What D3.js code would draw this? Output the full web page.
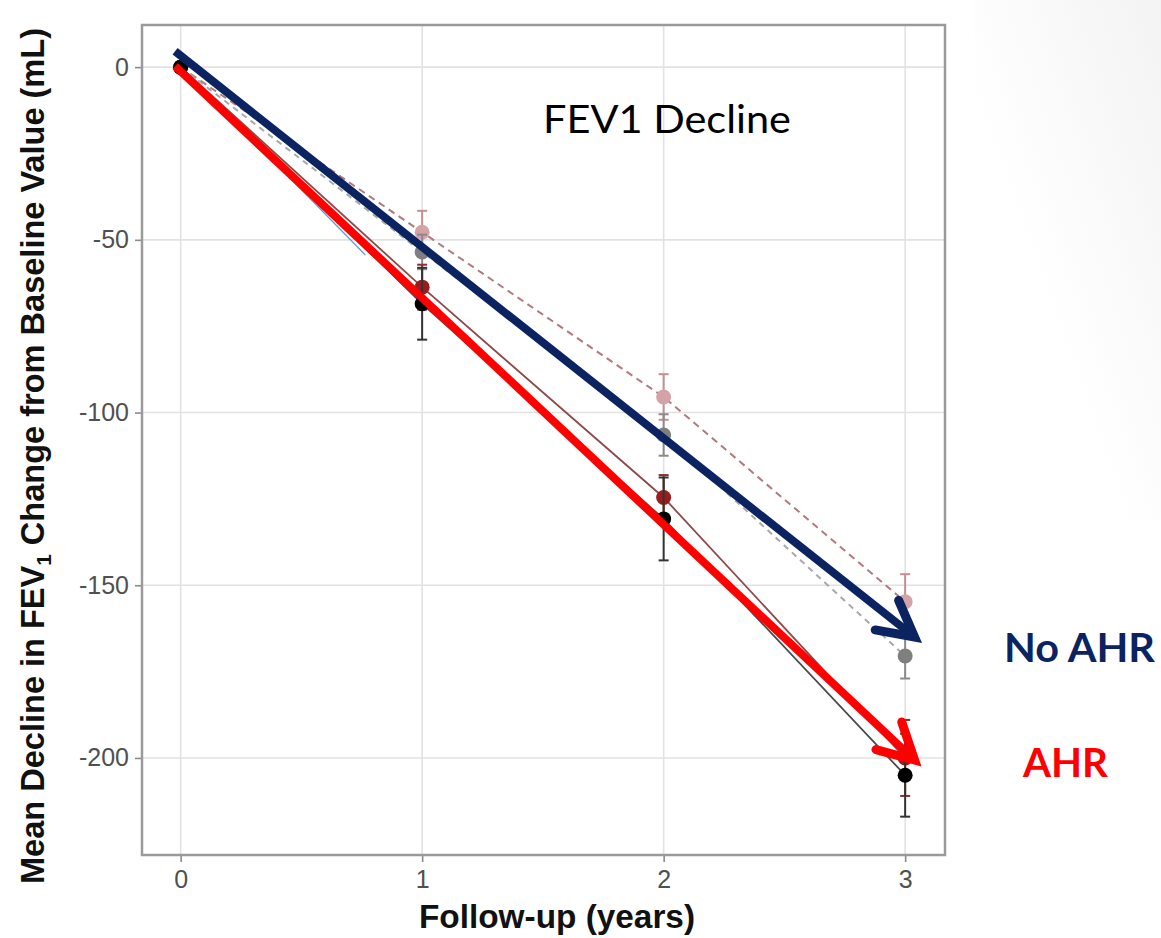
<!DOCTYPE html>
<html>
<head>
<meta charset="utf-8">
<script src="https://cdn.jsdelivr.net/npm/d3@7"></script>
<style>
  html, body { margin: 0; padding: 0; background: #fff; }
  svg { display: block; }
</style>
</head>
<body>
<svg id="chart" width="1161" height="938"></svg>
<script>
// Follow-up years and tick values
const years = [0, 1, 2, 3];
const yTicks = [0, -50, -100, -150, -200];

// Mean change from baseline FEV1 (mL) per group, with error bar half-widths
const blackMean   = [0, -68.5, -130.8, -205];
const blackErr    = [0, 10.4, 12, 12];
const darkredMean = [0, -63.7, -124.6, -200];
const darkredErr  = [0, 6.5, 6.5, 11];
const grayMean    = [0, -53.5, -106.5, -170.5];
const grayErr     = [0, 5, 6, 6.5];
const pinkMean    = [0, -47.8, -95.5, -154.8];
const pinkErr     = [0, 6.2, 6.6, 8];

// Trend arrows: [year, mL] start and end
const noAhrArrow = [[-0.023, 4.6], [3.039, -165]];
const ahrArrow   = [[-0.023, 0.3], [3.039, -200.6]];
const thinGuide  = [[0.002, 0], [0.765, -54.4]];

const svg = d3.select("#chart");

// faint slide shading on the right side
const defs = svg.append("defs");
const grad = defs.append("linearGradient").attr("id", "shade")
  .attr("x1", "1").attr("y1", "0").attr("x2", "0").attr("y2", "1");
grad.append("stop").attr("offset", "0").attr("stop-color", "#f3f3f3");
grad.append("stop").attr("offset", "0.6").attr("stop-color", "#ffffff");
svg.append("rect").attr("x", 975).attr("y", 0).attr("width", 186).attr("height", 520)
  .attr("fill", "url(#shade)");

const x = d3.scaleLinear().domain([-0.16, 3.165]).range([142, 945]);
const y = d3.scaleLinear().domain([12.2, -228.1]).range([25, 855]);

// gridlines
const grid = svg.append("g");
grid.selectAll("line.gx").data(years).join("line")
  .attr("x1", d => x(d)).attr("x2", d => x(d))
  .attr("y1", 25).attr("y2", 855)
  .attr("stroke", "#e2e2e2").attr("stroke-width", 1.6);
grid.selectAll("line.gy").data(yTicks).join("line")
  .attr("x1", 142).attr("x2", 945)
  .attr("y1", d => y(d)).attr("y2", d => y(d))
  .attr("stroke", "#e2e2e2").attr("stroke-width", 1.6);

// axes (plain hyphen for negative labels)
const fmt = d => String(d);
const yAxis = svg.append("g").attr("transform", "translate(142,0)")
  .call(d3.axisLeft(y).tickValues(yTicks).tickSize(7).tickPadding(6).tickFormat(fmt));
const xAxis = svg.append("g").attr("transform", "translate(0,855)")
  .call(d3.axisBottom(x).tickValues(years).tickSize(7).tickPadding(8).tickFormat(fmt));
[yAxis, xAxis].forEach(a => {
  a.select(".domain").remove();
  a.selectAll(".tick line").attr("stroke", "#8a8a8a").attr("stroke-width", 1.6);
  a.selectAll(".tick text")
    .attr("fill", "#505050")
    .style("font-family", "'Liberation Sans', Arial, sans-serif")
    .style("font-size", "25px");
});

// thin guide line
svg.append("line")
  .attr("x1", x(thinGuide[0][0])).attr("y1", y(thinGuide[0][1]))
  .attr("x2", x(thinGuide[1][0])).attr("y2", y(thinGuide[1][1]))
  .attr("stroke", "#5b9bd5").attr("stroke-width", 1.2);

// series
const series = [
  { mean: pinkMean,    err: pinkErr,    line: "#b07a7e", point: "#d3a3a7", bar: "#c48e92", dash: "7,5", lw: 2 },
  { mean: grayMean,    err: grayErr,    line: "#a8a8a8", point: "#7f7f7f", bar: "#8a8a8a", dash: "6,5", lw: 2 },
  { mean: darkredMean, err: darkredErr, line: "#8e4a4a", point: "#9b1c1c", bar: "#8a3030", dash: null,  lw: 1.8 },
  { mean: blackMean,   err: blackErr,   line: "#4a4a4a", point: "#000000", bar: "#333333", dash: null,  lw: 1.8 }
];

const lineGen = d3.line().x(d => x(d[0])).y(d => y(d[1]));

series.forEach(s => {
  const pts = years.map((yr, i) => [yr, s.mean[i], s.err[i]]);
  const g = svg.append("g");
  g.append("path").datum(pts)
    .attr("d", lineGen)
    .attr("fill", "none")
    .attr("stroke", s.line)
    .attr("stroke-width", s.lw)
    .attr("stroke-dasharray", s.dash);
  const eb = pts.filter(p => p[2] > 0);
  g.selectAll("line.v").data(eb).join("line")
    .attr("x1", d => x(d[0])).attr("x2", d => x(d[0]))
    .attr("y1", d => y(d[1] + d[2])).attr("y2", d => y(d[1] - d[2]))
    .attr("stroke", s.bar).attr("stroke-width", 2);
  ["top", "bot"].forEach(k => {
    g.selectAll("line.c" + k).data(eb).join("line")
      .attr("x1", d => x(d[0]) - 5).attr("x2", d => x(d[0]) + 5)
      .attr("y1", d => y(k === "top" ? d[1] + d[2] : d[1] - d[2]))
      .attr("y2", d => y(k === "top" ? d[1] + d[2] : d[1] - d[2]))
      .attr("stroke", s.bar).attr("stroke-width", 2);
  });
  g.selectAll("circle").data(pts).join("circle")
    .attr("cx", d => x(d[0])).attr("cy", d => y(d[1]))
    .attr("r", 7.5)
    .attr("fill", s.point);
});

// panel border
svg.append("rect").attr("x", 142).attr("y", 25).attr("width", 803).attr("height", 830)
  .attr("fill", "none").attr("stroke", "#9a9a9a").attr("stroke-width", 2.5);

// trend arrows with open heads
function drawArrow(seg, color) {
  const x0 = x(seg[0][0]), y0 = y(seg[0][1]);
  const x1 = x(seg[1][0]), y1 = y(seg[1][1]);
  const ang = Math.atan2(y1 - y0, x1 - x0);
  const len = 40, spread = Math.PI / 6.4;
  const a1 = [x1 - len * Math.cos(ang - spread), y1 - len * Math.sin(ang - spread)];
  const a2 = [x1 - len * Math.cos(ang + spread), y1 - len * Math.sin(ang + spread)];
  const g = svg.append("g").attr("fill", "none").attr("stroke", color)
    .attr("stroke-width", 8).attr("stroke-linejoin", "miter");
  g.append("line").attr("x1", x0).attr("y1", y0)
    .attr("x2", x1 - 5 * Math.cos(ang)).attr("y2", y1 - 5 * Math.sin(ang));
  g.append("path").attr("d", `M${a1[0]},${a1[1]}L${x1},${y1}L${a2[0]},${a2[1]}`)
    .attr("stroke-width", 9).attr("stroke-linecap", "round");
}
drawArrow(noAhrArrow, "#0b2461");
drawArrow(ahrArrow, "#ff0000");

// axis titles
const yTitle = svg.append("text")
  .attr("transform", "translate(44,456) rotate(-90)")
  .attr("text-anchor", "middle")
  .attr("textLength", 856).attr("lengthAdjust", "spacingAndGlyphs")
  .style("font-family", "'Liberation Sans Narrow', 'Arial Narrow', 'Liberation Sans', Arial, sans-serif")
  .style("font-weight", "bold").style("font-size", "33px").attr("fill", "#111");
yTitle.append("tspan").text("Mean Decline in FEV");
yTitle.append("tspan").attr("dy", 7).style("font-size", "21px").text("1");
yTitle.append("tspan").attr("dy", -7).text(" Change from Baseline Value (mL)");

svg.append("text")
  .attr("x", 557).attr("y", 928)
  .attr("text-anchor", "middle")
  .attr("textLength", 276).attr("lengthAdjust", "spacingAndGlyphs")
  .style("font-family", "'Liberation Sans Narrow', 'Arial Narrow', 'Liberation Sans', Arial, sans-serif")
  .style("font-weight", "bold").style("font-size", "33px").attr("fill", "#111")
  .text("Follow-up (years)");

// annotations
svg.append("text")
  .attr("x", 543).attr("y", 133)
  .attr("textLength", 248).attr("lengthAdjust", "spacingAndGlyphs")
  .style("font-family", "Lato, 'Open Sans', sans-serif")
  .style("font-size", "38px").attr("fill", "#000")
  .text("FEV1 Decline");

svg.append("text")
  .attr("x", 1004).attr("y", 662)
  .attr("textLength", 151).attr("lengthAdjust", "spacingAndGlyphs")
  .style("font-family", "Lato, 'Open Sans', sans-serif")
  .style("font-weight", "bold").style("font-size", "40px").attr("fill", "#0b2461")
  .text("No AHR");

svg.append("text")
  .attr("x", 1023).attr("y", 777)
  .attr("textLength", 85).attr("lengthAdjust", "spacingAndGlyphs")
  .style("font-family", "Lato, 'Open Sans', sans-serif")
  .style("font-weight", "bold").style("font-size", "40px").attr("fill", "#ff0000")
  .text("AHR");
</script>
</body>
</html>
